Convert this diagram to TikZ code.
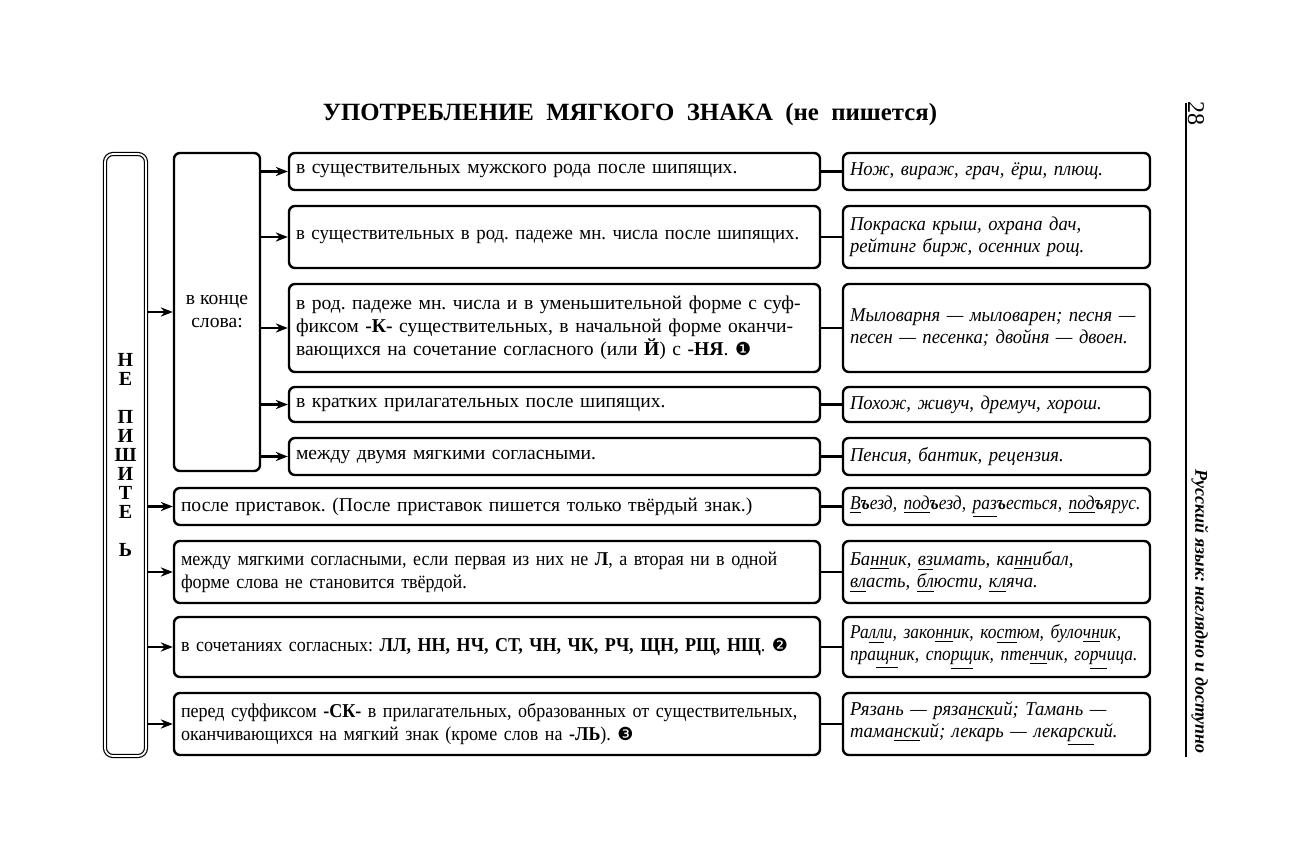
\documentclass[tikz,border=0pt]{standalone}
\usepackage{fontspec}
\setmainfont{Liberation Serif}
\newfontfamily\condfont[FakeStretch=0.92]{Liberation Serif}
\newfontfamily\semifont[FakeStretch=0.96]{Liberation Serif}
\newfontfamily\exfont[FakeStretch=0.95]{Liberation Serif}
\newfontfamily\exnarrow[FakeStretch=0.89]{Liberation Serif}
\newfontfamily\dingfont{DejaVu Sans}
\usepackage{xcolor}
\usepackage{tikz}
\usetikzlibrary{shapes.geometric, arrows, arrows.meta, positioning, calc}
\frenchspacing
\tikzstyle{box} = [rectangle, draw=black, line width=1.2pt, rounded corners=3pt, inner xsep=3.5pt, inner ysep=0pt, align=left, font=\fontsize{9.8}{11.5}\selectfont]
\tikzstyle{rulebox} = [box, text width=258.5pt]
\tikzstyle{widebox} = [box, text width=316pt]
\tikzstyle{example} = [box, text width=146.5pt, font=\fontsize{9.8}{11}\exfont\itshape]
\tikzstyle{arrow} = [-{Stealth[length=6pt,width=4.6pt]},line width=1.1pt]
\tikzstyle{line} = [-,line width=1.1pt]
\newcommand{\circnum}[1]{{\dingfont\fontsize{9}{9}\selectfont #1}}

\begin{document}
\begin{tikzpicture}[x=0.5pt,y=-0.5pt]
\useasboundingbox (0,0) rectangle (1311,844);

\node[font=\fontsize{12.4}{15}\selectfont\bfseries] (title) at (630,115) {УПОТРЕБЛЕНИЕ\ \ МЯГКОГО\ \ ЗНАКА\ \ (не\ \ пишется)};

\node[draw, double, double distance=0.9pt, line width=0.6pt, rounded corners=4pt, minimum width=20.5pt, minimum height=301pt, inner sep=0pt, align=center, font=\fontsize{10}{9.5}\selectfont\bfseries] (ne) at (125.5,455) {Н\\Е\\[9.5pt]П\\И\\Ш\\И\\Т\\Е\\[9.5pt]Ь};
\node[box, align=center, minimum width=43pt, minimum height=159pt, inner xsep=0pt] (konce) at (217,312) {в конце\\слова:};

% rules
\node[rulebox, minimum height=18.5pt] (r1) at (554.5,171.5) {в существительных мужского рода после шипящих.};
\node[rulebox, minimum height=31pt, font=\fontsize{9.8}{11.5}\semifont] (r2) at (554.5,237) {в существительных в род. падеже мн. числа после шипящих.};
\node[rulebox, minimum height=44pt] (r3) at (554.5,328) {в род. падеже мн. числа и в уменьшительной форме с суф-\\фиксом \textbf{-К-} существительных, в начальной форме оканчи-\\вающихся на сочетание согласного (или \textbf{Й}) с \textbf{-НЯ}. \circnum{❶}};
\node[rulebox, minimum height=17.5pt] (r4) at (554.5,404.5) {в кратких прилагательных после шипящих.};
\node[rulebox, minimum height=18.5pt] (r5) at (554.5,456.5) {между двумя мягкими согласными.};
\node[widebox, minimum height=18.5pt] (r6) at (497,506.5) {после приставок. (После приставок пишется только твёрдый знак.)};
\node[widebox, minimum height=31pt, font=\fontsize{9.8}{11.5}\condfont] (r7) at (497,572) {между мягкими согласными, если первая из них не \textbf{Л}, а вторая ни в одной\\форме слова не становится твёрдой.};
\node[widebox, minimum height=30pt, font=\fontsize{9.8}{11.5}\condfont] (r8) at (497,647) {в сочетаниях согласных: \textbf{ЛЛ, НН, НЧ, СТ, ЧН, ЧК, РЧ, ЩН, РЩ, НЩ}. \circnum{❷}};
\node[widebox, minimum height=31pt, font=\fontsize{9.8}{11.5}\condfont] (r9) at (497,724) {перед суффиксом \textbf{-СК-} в прилагательных, образованных от существительных,\\оканчивающихся на мягкий знак (кроме слов на \textbf{-ЛЬ}). \circnum{❸}};

% examples
\node[example, minimum height=18.5pt] (e1) at (996.5,171.5) {Нож, вираж, грач, ёрш, плющ.};
\node[example, minimum height=31pt] (e2) at (996.5,237) {Покраска крыш, охрана дач,\\рейтинг бирж, осенних рощ.};
\node[example, minimum height=44pt] (e3) at (996.5,328) {Мыловарня — мыловарен; песня —\\песен — песенка; двойня — двоен.};
\node[example, minimum height=17.5pt] (e4) at (996.5,404.5) {Похож, живуч, дремуч, хорош.};
\node[example, minimum height=18.5pt] (e5) at (996.5,456.5) {Пенсия, бантик, рецензия.};
\node[example, minimum height=18.5pt, font=\fontsize{9.8}{11}\exnarrow\itshape] (e6) at (996.5,506.5) {\underline{В}\textbf{ъ}езд, \underline{под}\textbf{ъ}езд, \underline{раз}\textbf{ъ}есться, \underline{под}\textbf{ъ}ярус.};
\node[example, minimum height=31pt] (e7) at (996.5,572) {Ба\underline{нн}ик, \underline{вз}имать, ка\underline{нн}ибал,\\\underline{вл}асть, \underline{бл}юсти, \underline{кл}яча.};
\node[example, minimum height=30pt, font=\fontsize{9.8}{11}\exnarrow\itshape] (e8) at (996.5,647) {Ра\underline{лл}и, зако\underline{нн}ик, ко\underline{ст}юм, було\underline{чн}ик,\\пра\underline{щн}ик, спо\underline{рщ}ик, пте\underline{нч}ик, го\underline{рч}ица.};
\node[example, minimum height=31pt] (e9) at (996.5,724) {Рязань — ряза\underline{нск}ий; Тамань —\\тама\underline{нск}ий; лекарь — лека\underline{рск}ий.};

% connectors
\draw[arrow] (ne.east |- konce.west) -- (konce.west);
\foreach \r in {r1,r2,r3,r4,r5}
  \draw[arrow] (konce.east |- \r.west) -- (\r.west);
\foreach \r in {r6,r7,r8,r9}
  \draw[arrow] (ne.east |- \r.west) -- (\r.west);
\foreach \i in {1,...,9}
  \draw[line] (r\i.east) -- (e\i.west);

% page margin
\coordinate (mtop) at (1186,103);
\coordinate (mbot) at (1186,757);
\draw[line width=0.8pt] (mtop) -- (mbot);
\node[rotate=-90, font=\fontsize{12}{12}\selectfont] (page) at (1196,114) {28};
\node[rotate=-90, anchor=east, font=\fontsize{9}{12}\selectfont\bfseries\itshape] (book) at (1200,761) {Русский язык: наглядно и доступно};
\end{tikzpicture}
\end{document}
